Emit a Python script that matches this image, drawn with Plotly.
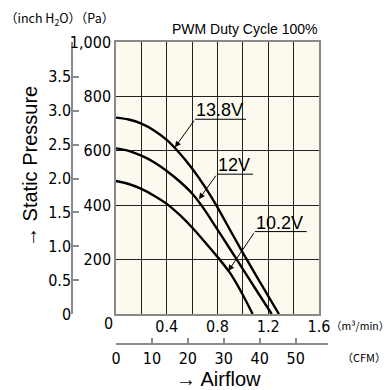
import plotly.graph_objects as go

# ---- data (airflow m3/min, static pressure Pa) ----
flow_138 = [0.0, 0.1, 0.2, 0.3, 0.4, 0.5, 0.6, 0.7, 0.8, 0.9, 1.0, 1.1, 1.2, 1.284]
pa_138 = [722, 715, 700, 675, 640, 592, 535, 468, 392, 308, 225, 145, 66, 0]

flow_12 = [0.0, 0.1, 0.2, 0.3, 0.4, 0.5, 0.6, 0.7, 0.8, 0.9, 1.0, 1.1, 1.227]
pa_12 = [609, 600, 582, 558, 526, 488, 443, 382, 310, 238, 165, 92, 0]

flow_102 = [0.0, 0.1, 0.2, 0.3, 0.4, 0.5, 0.6, 0.7, 0.8, 0.9, 1.0, 1.077]
pa_102 = [489, 478, 460, 435, 405, 365, 318, 265, 210, 150, 70, 0]

series_names = ["13.8V", "12V", "10.2V"]

# label placement (underline start/end x, underline y, arrow tip x, y)
label_pos = {
    "13.8V": (0.623, 1.024, 716, 0.465, 613),
    "12V": (0.796, 1.080, 514, 0.654, 422),
    "10.2V": (1.095, 1.503, 303, 0.885, 158),
}

x_tickvals = [0.2, 0.4, 0.6, 0.8, 1.0, 1.2, 1.4, 1.6]
x_ticktext = ["", "0.4", "", "0.8", "", "1.2", "", "1.6"]
y_tickvals = [200, 400, 600, 800, 1000]
y_ticktext = ["200", "400", "600", "800", "1,000"]
inch_tickvals = [0, 0.5, 1.0, 1.5, 2.0, 2.5, 3.0, 3.5]
inch_ticktext = ["0", "0.5", "1.0", "1.5", "2.0", "2.5", "3.0", "3.5"]
cfm_tickvals = [0, 10, 20, 30, 40, 50]

PA_PER_INCH = 249.0889
CFM_PER_M3MIN = 35.3147

NARROW = "DejaVu Sans Condensed, Liberation Sans Narrow, sans-serif"
SANS = "Liberation Sans, Arial, Helvetica, sans-serif"
CJK = "Noto Sans CJK JP, Liberation Sans, sans-serif"
TICK_SIZE = 16

fig = go.Figure()
for name, fx, py in zip(series_names, [flow_138, flow_12, flow_102], [pa_138, pa_12, pa_102]):
    fig.add_trace(go.Scatter(x=fx, y=py, mode="lines", name=name,
                             line=dict(color="black", width=2.4, shape="spline", smoothing=0.6),
                             showlegend=False, hoverinfo="skip"))

# invisible helper traces so the secondary axes render
fig.add_trace(go.Scatter(x=[0], y=[0], xaxis="x", yaxis="y2", mode="markers",
                         marker=dict(opacity=0), showlegend=False, hoverinfo="skip"))
fig.add_trace(go.Scatter(x=[0], y=[0], xaxis="x2", yaxis="y3", mode="markers",
                         marker=dict(opacity=0), showlegend=False, hoverinfo="skip"))

# cream plot background
fig.add_shape(type="rect", xref="x domain", yref="y domain", x0=0, x1=1, y0=0, y1=1,
              fillcolor="#fcfaee", line=dict(width=0), layer="below")

# labels with underline and leader arrow
for name in series_names:
    x0, x1, yu, tx, ty = label_pos[name]
    fig.add_shape(type="line", xref="x", yref="y", x0=x0, x1=x1, y0=yu, y1=yu,
                  line=dict(color="black", width=1))
    fig.add_annotation(x=tx, y=ty, ax=x0, ay=yu, axref="x", ayref="y", xref="x", yref="y",
                       text="", showarrow=True, arrowhead=2, arrowsize=1.2, arrowwidth=1,
                       arrowcolor="black", standoff=0)
    fig.add_annotation(x=x0 - 0.01, y=yu, xref="x", yref="y", text=name, showarrow=False,
                       xanchor="left", yanchor="bottom", yshift=-3,
                       font=dict(family=SANS, size=18, color="black"))

# other texts
fig.add_annotation(x=0, y=0, xref="x", yref="y", text="0", showarrow=False,
                   xanchor="center", yanchor="middle",
                   xshift=-8, yshift=-9, font=dict(family=NARROW, size=TICK_SIZE, color="black"))
fig.add_annotation(x=1.6, y=0, xref="x", yref="y", text="（m³/min）", showarrow=False,
                   xanchor="left", yanchor="middle", xshift=10, yshift=-11,
                   font=dict(family=CJK, size=10.5, color="black"))
fig.add_annotation(x=(388 - 60) / 280, y=(360 - 357) / 318, xref="paper", yref="paper",
                   text="（CFM）", showarrow=False, xanchor="right", yanchor="middle",
                   font=dict(family=CJK, size=11, color="black"))
fig.add_annotation(x=(218 - 60) / 280, y=(360 - 379) / 318, xref="paper", yref="paper",
                   text="→ Airflow", showarrow=False, xanchor="center", yanchor="middle",
                   font=dict(family=SANS, size=20, color="black"))
fig.add_annotation(x=(30 - 60) / 280, y=(360 - 167) / 318, xref="paper", yref="paper",
                   text="→ Static Pressure", textangle=-90, showarrow=False,
                   xanchor="center", yanchor="middle",
                   font=dict(family=SANS, size=20, color="black"))
fig.add_annotation(x=(319 - 60) / 280, y=(360 - 29) / 318, xref="paper", yref="paper",
                   text="PWM Duty Cycle 100%", showarrow=False, xanchor="right", yanchor="middle",
                   font=dict(family=SANS, size=14, color="black"))
fig.add_annotation(x=(116 - 60) / 280, y=(360 - 18) / 318, xref="paper", yref="paper",
                   text="（inch H<sub>2</sub>O）（Pa）", showarrow=False, xanchor="right",
                   yanchor="middle", font=dict(family=CJK, size=12.5, color="black"))

GRID = "#222222"
BORDER = "#8a8a8a"
xdom = [56 / 280, 259 / 280]
ydom = [46 / 318, 1]

fig.update_layout(
    width=390, height=390,
    margin=dict(l=60, r=50, t=42, b=30, autoexpand=False),
    paper_bgcolor="white",
    plot_bgcolor="rgba(0,0,0,0)",
    xaxis=dict(domain=xdom, range=[0, 1.6], tickvals=x_tickvals, ticktext=x_ticktext,
               showgrid=True, gridcolor=GRID, gridwidth=1.2, zeroline=False,
               showline=True, linecolor=BORDER, linewidth=1.5, mirror=True,
               ticks="", ticklabelstandoff=-3,
               tickfont=dict(family=NARROW, size=TICK_SIZE, color="black")),
    yaxis=dict(domain=ydom, range=[0, 1000], tickvals=y_tickvals, ticktext=y_ticktext,
               showgrid=True, gridcolor=GRID, gridwidth=1.2, zeroline=False,
               showline=True, linecolor=BORDER, linewidth=1.5, mirror=True,
               ticks="", ticklabelstandoff=0,
               tickfont=dict(family=NARROW, size=TICK_SIZE, color="black")),
    yaxis2=dict(overlaying="y", anchor="free", position=(72 - 60) / 280, side="left",
                range=[0, 1000 / PA_PER_INCH], tickvals=inch_tickvals, ticktext=inch_ticktext,
                showgrid=False, zeroline=False, showline=True, linecolor=BORDER, linewidth=1.5,
                ticks="inside", ticklen=6, tickcolor=BORDER, tickwidth=1.5, ticklabelstandoff=-3,
                tickfont=dict(family=NARROW, size=TICK_SIZE, color="black")),
    yaxis3=dict(domain=ydom, range=[0, 1], visible=False, showgrid=False, zeroline=False),
    xaxis2=dict(domain=[56 / 280, (328 - 60) / 280], anchor="free", position=(360 - 344) / 318,
                range=[0, (328 - 116) / 203 * 1.6 * CFM_PER_M3MIN], tickvals=cfm_tickvals,
                showgrid=False, zeroline=False, showline=True, linecolor=BORDER, linewidth=1.5,
                ticks="inside", ticklen=5, tickcolor=BORDER, tickwidth=1.5,
                tickfont=dict(family=NARROW, size=TICK_SIZE, color="black")),
)

fig.write_html("out.html", config={"displayModeBar": False},
               post_script="document.body.style.margin='0';")
